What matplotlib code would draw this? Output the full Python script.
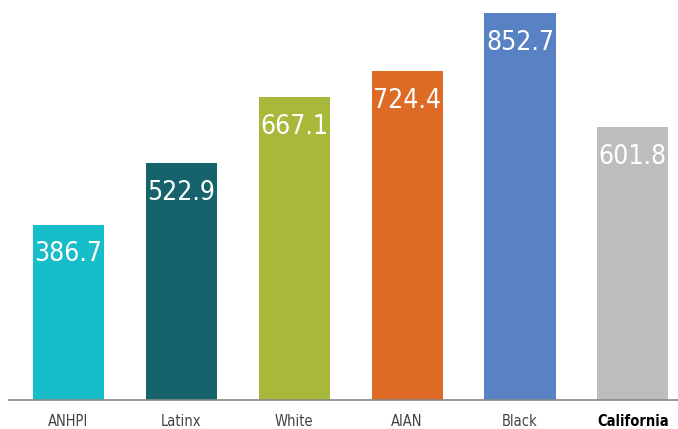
import matplotlib.pyplot as plt

groups = ['ANHPI', 'Latinx', 'White', 'AIAN', 'Black', 'California']
rates = [386.7, 522.9, 667.1, 724.4, 852.7, 601.8]
colors = ['#17BDC8', '#16636B', '#A8B83A', '#DD6B26', '#5882C4', '#BDBDBD']

fig = plt.figure(figsize=(6.78, 4.29), dpi=100)
ax = fig.add_axes([9 / 678, 29 / 429, 669 / 678, 400 / 429])

x = list(range(len(groups)))
ax.bar(x, rates, width=0.63, color=colors, zorder=2)

for xi, v in zip(x, rates):
    ax.annotate(f'{v:.1f}', (xi, v), xytext=(0, -26.5), textcoords='offset points',
                ha='center', va='baseline', color='white', fontsize=19,
                family='DejaVu Sans', fontstretch='condensed')

ax.set_xlim(-0.527, 5.40)
ax.set_ylim(0, 882)
ax.set_xticks(x)
ax.set_xticklabels(groups, fontsize=10.5, color='#444444',
                   family='DejaVu Sans', fontstretch='condensed')
ax.get_xticklabels()[-1].set_fontweight('bold')
ax.get_xticklabels()[-1].set_color('black')
ax.tick_params(axis='x', length=0, pad=10)
ax.set_yticks([])
for s in ['top', 'right', 'left']:
    ax.spines[s].set_visible(False)
ax.spines['bottom'].set_color('#888888')
ax.spines['bottom'].set_linewidth(1.2)

fig.savefig('out.png', dpi=100)
